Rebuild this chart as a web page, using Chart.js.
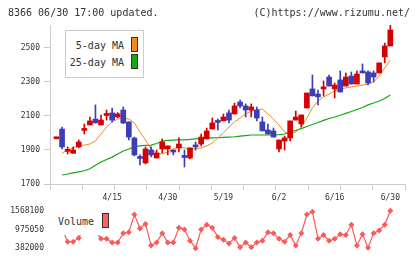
<!DOCTYPE html>
<html>
<head>
<meta charset="utf-8">
<script src="https://cdn.jsdelivr.net/npm/chart.js@4.4.0/dist/chart.umd.min.js"></script>
<style>
body { margin: 0; background: #fff; }
#wrap { position: relative; width: 420px; height: 259px; overflow: hidden; font-family: "DejaVu Sans Mono", monospace; color: #333; }
canvas { position: absolute; left: 0; }
#priceChart { top: 0; }
#volChart { top: 200px; }
.txt { position: absolute; font-size: 10px; line-height: 12px; white-space: nowrap; }
#hdrL { left: 8px; top: 7px; }
#hdrR { right: 10px; top: 7px; }
#maLegend { position: absolute; left: 65px; top: 30px; width: 79px; height: 48px; box-sizing: border-box; border: 1px solid #ccc; background: #fff; }
#maLegend .lab { position: absolute; left: 0; width: 58px; text-align: right; font-size: 10px; line-height: 12px; }
.sw { position: absolute; width: 7px; height: 15px; box-sizing: border-box; border: 1px solid #333; }
#volLegend { position: absolute; left: 54px; top: 203px; width: 58px; height: 32px; background: #fff; }
</style>
</head>
<body>
<div id="wrap">
  <canvas id="priceChart" width="420" height="210"></canvas>
  <canvas id="volChart" width="420" height="59"></canvas>
  <div class="txt" id="hdrL">8366 06/30 17:00 updated.</div>
  <div class="txt" id="hdrR">(C)https://www.rizumu.net/</div>
  <div id="maLegend">
    <div class="lab" style="top:9px">5-day MA</div>
    <div class="sw" style="left:65px;top:6px;background:#f08c1e"></div>
    <div class="lab" style="top:26px">25-day MA</div>
    <div class="sw" style="left:65px;top:23px;background:#14a814"></div>
  </div>
  <div id="volLegend">
    <div class="txt" style="left:4px;top:13px">Volume</div>
    <div class="sw" style="left:48px;top:10px;background:#ff6060"></div>
  </div>
</div>
<script>
// daily prices, 4/1 .. 6/30
var openP  = [1966,2023,1892,1881,1918,2015,2047,2082,2047,2103,2118,2094,2135,2065,1970,1856,1824,1900,1853,1906,
              1906,1900,1912,1862,1853,1929,1935,1965,2023,2068,2071,2118,2112,2182,2159,2135,2135,2065,2018,2012,
              1906,1953,1971,2076,2053,2147,2259,2229,2259,2329,2259,2312,2276,2335,2288,2365,2359,2353,2353,2447,2512];
var highP  = [1972,2035,1918,1918,1959,2053,2094,2165,2106,2135,2147,2120,2153,2065,1976,1871,1918,1918,1900,1965,
              1924,1900,1971,1900,1912,1947,1994,2029,2088,2082,2112,2135,2176,2194,2171,2171,2153,2094,2053,2029,
              1959,1982,2071,2129,2106,2235,2341,2253,2306,2341,2294,2365,2353,2359,2365,2406,2365,2365,2412,2529,2635];
var lowP   = [1966,1906,1876,1880,1912,1994,2047,2059,2047,2076,2065,2090,2055,1959,1865,1812,1818,1859,1853,1882,
              1871,1871,1888,1800,1847,1900,1924,1965,2023,2018,2071,2059,2112,2147,2094,2094,2071,2012,1994,1976,
              1888,1900,1953,2076,2035,2147,2218,2165,2218,2276,2206,2241,2276,2288,2288,2353,2282,2300,2353,2412,2512];
var closeP = [1970,1918,1896,1900,1947,2020,2071,2059,2076,2107,2076,2112,2059,1976,1871,1850,1906,1871,1882,1947,
              1924,1888,1935,1856,1912,1918,1976,2012,2059,2062,2094,2076,2159,2159,2135,2153,2088,2012,1994,1976,
              1959,1971,2071,2094,2106,2235,2218,2212,2271,2276,2282,2241,2329,2288,2347,2353,2294,2329,2412,2512,2606];
var ma5  = [null,1882,1900,1912,1924,1929,1935,1953,1994,2035,2065,2082,2088,2082,2059,2006,1959,1906,1882,1876,
            1888,1906,1918,1912,1906,1906,1912,1924,1941,1971,2000,2035,2065,2088,2112,2129,2135,2141,2112,2082,
            2047,2006,1994,2006,2035,2088,2147,2188,2212,2229,2247,2259,2265,2271,2276,2282,2288,2300,2335,2382,2429];
var ma25 = [null,1753,1759,1765,1771,1778,1790,1810,1829,1844,1858,1876,1894,1906,1918,1924,1927,1929,1938,1953,
            1956,1958,1960,1960,1962,1965,1968,1970,1971,1972,1974,1976,1978,1982,1985,1988,1988,1988,1988,1988,
            1990,1994,2006,2015,2026,2038,2050,2062,2074,2085,2094,2104,2115,2126,2138,2150,2165,2176,2188,2203,2224];
var volume = [900000,1000000,590000,590000,708000,1050000,1200000,950000,679000,679000,
              560000,560000,856000,886000,1449000,1005000,1153000,471000,560000,856000,
              560000,560000,1034000,975000,619000,382000,975000,1123000,1034000,738000,
              649000,530000,708000,412000,560000,412000,560000,619000,886000,856000,
              679000,590000,797000,471000,856000,1449000,1540000,679000,797000,619000,
              679000,827000,797000,1123000,471000,827000,400000,856000,945000,1123000,1568100];
var dateLabels = ['4/15','4/30','5/19','6/2','6/16','6/30'];
var dateIdx = [10,20,30,40,50,60];
var priceTicks = [1700,1900,2100,2300,2500];
var volTicks = [382000,975050,1568100];

var RED = '#d60000', BLUE = '#3d3db8', VOL = '#fa5a5a', GRID = '#cccccc';
var xMin = -1.17, xMax = 62.64;
Chart.defaults.font.family = "'DejaVu Sans Mono', monospace";
Chart.defaults.color = '#333';

var idx = closeP.map(function (v, i) { return i; });
var candleColor = idx.map(function (i) { return closeP[i] >= openP[i] ? RED : BLUE; });
function maPoints(arr) {
    return idx.filter(function (i) { return arr[i] != null; }).map(function (i) { return { x: i, y: arr[i] }; });
}

new Chart(document.getElementById('priceChart'), {
    type: 'bar',
    data: {
        datasets: [{
            label: 'body',
            data: idx.map(function (i) { return { x: i, y: [openP[i], closeP[i]] }; }),
            backgroundColor: candleColor,
            barThickness: 5,
            minBarLength: 2,
            grouped: false,
            order: 1
        }, {
            label: 'wick',
            data: idx.map(function (i) { return { x: i, y: [lowP[i], highP[i]] }; }),
            backgroundColor: candleColor,
            barThickness: 1,
            grouped: false,
            order: 2
        }, {
            type: 'line',
            label: '5-day MA',
            data: maPoints(ma5),
            borderColor: '#f08c1e',
            borderWidth: 1,
            pointRadius: 0,
            tension: 0,
            order: 3
        }, {
            type: 'line',
            label: '25-day MA',
            data: maPoints(ma25),
            borderColor: '#14a814',
            borderWidth: 1.2,
            pointRadius: 0,
            tension: 0,
            order: 4
        }]
    },
    options: {
        responsive: false,
        animation: false,
        layout: { padding: { top: 25, right: 15, left: 0, bottom: 0 } },
        scales: {
            x: {
                type: 'linear', min: xMin, max: xMax, offset: false, weight: 0,
                afterBuildTicks: function (s) {
                    var t = [];
                    for (var k = 0; k < 12; k++) t.push({ value: xMin + k * (xMax - xMin) / 11 });
                    s.ticks = t;
                },
                afterFit: function (s) { s.height = 6; },
                ticks: { display: false },
                grid: { drawOnChartArea: false, tickLength: 6, color: GRID, offset: false },
                border: { color: GRID }
            },
            xd: {
                type: 'linear', position: 'bottom', min: xMin, max: xMax, offset: false, weight: 1,
                afterBuildTicks: function (s) { s.ticks = dateIdx.map(function (v) { return { value: v }; }); },
                afterFit: function (s) { s.height = 20; },
                ticks: {
                    autoSkip: false, maxRotation: 0, padding: 3, font: { size: 8 },
                    callback: function (v) { return dateLabels[dateIdx.indexOf(v)]; }
                },
                grid: { display: false, drawTicks: false },
                border: { display: false }
            },
            y: {
                type: 'linear', min: 1700, max: 2635,
                afterBuildTicks: function (s) { s.ticks = priceTicks.map(function (v) { return { value: v }; }); },
                afterFit: function (s) { s.width = 50; },
                ticks: { padding: 4, font: { size: 8 }, callback: function (v) { return String(v); } },
                grid: { drawOnChartArea: false, tickLength: 6, color: GRID },
                border: { color: GRID }
            }
        },
        plugins: { legend: { display: false }, tooltip: { enabled: false } }
    }
});

new Chart(document.getElementById('volChart'), {
    type: 'line',
    data: {
        datasets: [{
            label: 'Volume',
            data: idx.map(function (i) { return { x: i, y: volume[i] }; }),
            borderColor: VOL,
            backgroundColor: VOL,
            borderWidth: 1.2,
            pointStyle: 'rectRot',
            pointRadius: 3,
            pointBorderWidth: 0,
            tension: 0,
            clip: 8
        }]
    },
    options: {
        responsive: false,
        animation: false,
        layout: { padding: { top: 9, bottom: 10, right: 15, left: 0 } },
        scales: {
            x: { type: 'linear', min: xMin, max: xMax, display: false },
            y: {
                type: 'linear', min: 382000, max: 1568100,
                afterBuildTicks: function (s) { s.ticks = volTicks.map(function (v) { return { value: v }; }); },
                afterFit: function (s) { s.width = 50; },
                ticks: { padding: 6, font: { size: 8 }, callback: function (v) { return String(v); } },
                grid: { display: false, drawTicks: false },
                border: { display: false }
            }
        },
        plugins: { legend: { display: false }, tooltip: { enabled: false } }
    }
});
</script>
</body>
</html>
